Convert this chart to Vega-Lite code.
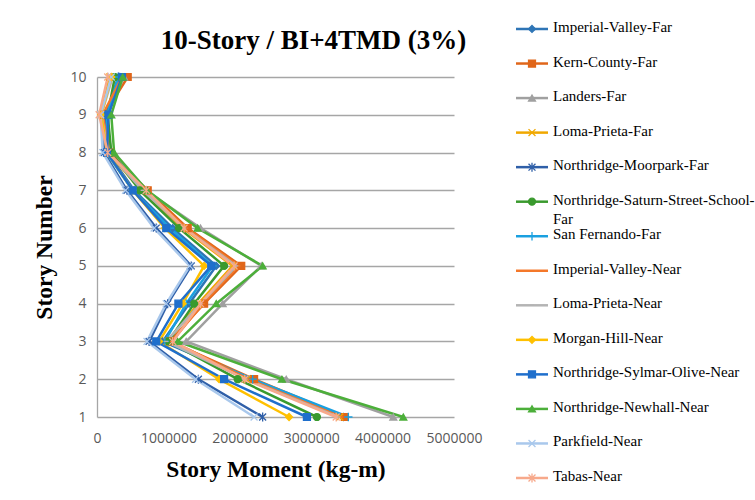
{
  "$schema": "https://vega.github.io/schema/vega-lite/v6.json",
  "background": "white",
  "padding": {"left": 32, "top": 19, "right": 0, "bottom": 0},
  "width": 357,
  "height": 340,
  "config": {"view": {"stroke": null}, "text": {"font": "Liberation Serif"}},
  "title": {"text": "10-Story / BI+4TMD (3%)", "font": "Liberation Serif", "fontSize": 27, "fontWeight": "bold", "color": "#000000", "frame": "group", "anchor": "middle", "dx": 38, "offset": -35},
  "datasets": {
    "moments": [
      {"story": 1, "Imperial-Valley-Far": 3450000, "Kern-County-Far": 3470000, "Landers-Far": 4150000, "Loma-Prieta-Far": 3400000, "Northridge-Moorpark-Far": 2320000, "Northridge-Saturn-Street-School-Far": 3080000, "San Fernando-Far": 3520000, "Imperial-Valley-Near": 3420000, "Loma-Prieta-Near": 3380000, "Morgan-Hill-Near": 2690000, "Northridge-Sylmar-Olive-Near": 2940000, "Northridge-Newhall-Near": 4290000, "Parkfield-Near": 2200000, "Tabas-Near": 3350000},
      {"story": 2, "Imperial-Valley-Far": 2150000, "Kern-County-Far": 2200000, "Landers-Far": 2650000, "Loma-Prieta-Far": 2100000, "Northridge-Moorpark-Far": 1420000, "Northridge-Saturn-Street-School-Far": 1970000, "San Fernando-Far": 2180000, "Imperial-Valley-Near": 2120000, "Loma-Prieta-Near": 2080000, "Morgan-Hill-Near": 1710000, "Northridge-Sylmar-Olive-Near": 1780000, "Northridge-Newhall-Near": 2590000, "Parkfield-Near": 1380000, "Tabas-Near": 2070000},
      {"story": 3, "Imperial-Valley-Far": 920000, "Kern-County-Far": 1020000, "Landers-Far": 1250000, "Loma-Prieta-Far": 980000, "Northridge-Moorpark-Far": 730000, "Northridge-Saturn-Street-School-Far": 1000000, "San Fernando-Far": 950000, "Imperial-Valley-Near": 1050000, "Loma-Prieta-Near": 970000, "Morgan-Hill-Near": 870000, "Northridge-Sylmar-Olive-Near": 830000, "Northridge-Newhall-Near": 1130000, "Parkfield-Near": 700000, "Tabas-Near": 1060000},
      {"story": 4, "Imperial-Valley-Far": 1290000, "Kern-County-Far": 1500000, "Landers-Far": 1760000, "Loma-Prieta-Far": 1420000, "Northridge-Moorpark-Far": 990000, "Northridge-Saturn-Street-School-Far": 1360000, "San Fernando-Far": 1250000, "Imperial-Valley-Near": 1480000, "Loma-Prieta-Near": 1450000, "Morgan-Hill-Near": 1200000, "Northridge-Sylmar-Olive-Near": 1140000, "Northridge-Newhall-Near": 1670000, "Parkfield-Near": 970000, "Tabas-Near": 1450000},
      {"story": 5, "Imperial-Valley-Far": 1670000, "Kern-County-Far": 2020000, "Landers-Far": 2300000, "Loma-Prieta-Far": 1900000, "Northridge-Moorpark-Far": 1320000, "Northridge-Saturn-Street-School-Far": 1780000, "San Fernando-Far": 1620000, "Imperial-Valley-Near": 1980000, "Loma-Prieta-Near": 1950000, "Morgan-Hill-Near": 1500000, "Northridge-Sylmar-Olive-Near": 1600000, "Northridge-Newhall-Near": 2320000, "Parkfield-Near": 1300000, "Tabas-Near": 1920000},
      {"story": 6, "Imperial-Valley-Far": 1060000, "Kern-County-Far": 1270000, "Landers-Far": 1450000, "Loma-Prieta-Far": 1200000, "Northridge-Moorpark-Far": 830000, "Northridge-Saturn-Street-School-Far": 1150000, "San Fernando-Far": 1020000, "Imperial-Valley-Near": 1250000, "Loma-Prieta-Near": 1220000, "Morgan-Hill-Near": 950000, "Northridge-Sylmar-Olive-Near": 970000, "Northridge-Newhall-Near": 1410000, "Parkfield-Near": 800000, "Tabas-Near": 1220000},
      {"story": 7, "Imperial-Valley-Far": 520000, "Kern-County-Far": 710000, "Landers-Far": 680000, "Loma-Prieta-Far": 620000, "Northridge-Moorpark-Far": 420000, "Northridge-Saturn-Street-School-Far": 600000, "San Fernando-Far": 500000, "Imperial-Valley-Near": 660000, "Loma-Prieta-Near": 640000, "Morgan-Hill-Near": 500000, "Northridge-Sylmar-Olive-Near": 500000, "Northridge-Newhall-Near": 700000, "Parkfield-Near": 400000, "Tabas-Near": 690000},
      {"story": 8, "Imperial-Valley-Far": 150000, "Kern-County-Far": 180000, "Landers-Far": 200000, "Loma-Prieta-Far": 160000, "Northridge-Moorpark-Far": 100000, "Northridge-Saturn-Street-School-Far": 200000, "San Fernando-Far": 130000, "Imperial-Valley-Near": 170000, "Loma-Prieta-Near": 160000, "Morgan-Hill-Near": 140000, "Northridge-Sylmar-Olive-Near": 140000, "Northridge-Newhall-Near": 240000, "Parkfield-Near": 80000, "Tabas-Near": 150000},
      {"story": 9, "Imperial-Valley-Far": 150000, "Kern-County-Far": 100000, "Landers-Far": 120000, "Loma-Prieta-Far": 50000, "Northridge-Moorpark-Far": 120000, "Northridge-Saturn-Street-School-Far": 150000, "San Fernando-Far": 140000, "Imperial-Valley-Near": 80000, "Loma-Prieta-Near": 60000, "Morgan-Hill-Near": 60000, "Northridge-Sylmar-Olive-Near": 160000, "Northridge-Newhall-Near": 200000, "Parkfield-Near": 50000, "Tabas-Near": 30000},
      {"story": 10, "Imperial-Valley-Far": 320000, "Kern-County-Far": 430000, "Landers-Far": 380000, "Loma-Prieta-Far": 180000, "Northridge-Moorpark-Far": 300000, "Northridge-Saturn-Street-School-Far": 250000, "San Fernando-Far": 300000, "Imperial-Valley-Near": 350000, "Loma-Prieta-Near": 220000, "Morgan-Hill-Near": 200000, "Northridge-Sylmar-Olive-Near": 350000, "Northridge-Newhall-Near": 360000, "Parkfield-Near": 200000, "Tabas-Near": 150000}
    ],
    "legend": [
      {"series": "Imperial-Valley-Far", "label": "Imperial-Valley-Far"},
      {"series": "Kern-County-Far", "label": "Kern-County-Far"},
      {"series": "Landers-Far", "label": "Landers-Far"},
      {"series": "Loma-Prieta-Far", "label": "Loma-Prieta-Far"},
      {"series": "Northridge-Moorpark-Far", "label": "Northridge-Moorpark-Far"},
      {"series": "Northridge-Saturn-Street-School-Far", "label": "Northridge-Saturn-Street-School-\nFar"},
      {"series": "San Fernando-Far", "label": "San Fernando-Far"},
      {"series": "Imperial-Valley-Near", "label": "Imperial-Valley-Near"},
      {"series": "Loma-Prieta-Near", "label": "Loma-Prieta-Near"},
      {"series": "Morgan-Hill-Near", "label": "Morgan-Hill-Near"},
      {"series": "Northridge-Sylmar-Olive-Near", "label": "Northridge-Sylmar-Olive-Near"},
      {"series": "Northridge-Newhall-Near", "label": "Northridge-Newhall-Near"},
      {"series": "Parkfield-Near", "label": "Parkfield-Near"},
      {"series": "Tabas-Near", "label": "Tabas-Near"}
    ]
  },
  "encoding": {
    "color": {"field": "series", "type": "nominal", "legend": null,
      "scale": {"domain": ["Imperial-Valley-Far", "Kern-County-Far", "Landers-Far", "Loma-Prieta-Far", "Northridge-Moorpark-Far", "Northridge-Saturn-Street-School-Far", "San Fernando-Far", "Imperial-Valley-Near", "Loma-Prieta-Near", "Morgan-Hill-Near", "Northridge-Sylmar-Olive-Near", "Northridge-Newhall-Near", "Parkfield-Near", "Tabas-Near"],
        "range": ["#2E75B6", "#E0661A", "#A0A0A0", "#F0A800", "#2F5FA8", "#3A9A2E", "#1AA0E0", "#F4782A", "#B4B4B4", "#FFC000", "#1F6FCC", "#4CAF3A", "#A9C8EC", "#F7A98B"]}}
  },
  "layer": [
    {
      "data": {"name": "moments"},
      "transform": [
        {"fold": ["Imperial-Valley-Far", "Kern-County-Far", "Landers-Far", "Loma-Prieta-Far", "Northridge-Moorpark-Far", "Northridge-Saturn-Street-School-Far", "San Fernando-Far", "Imperial-Valley-Near", "Loma-Prieta-Near", "Morgan-Hill-Near", "Northridge-Sylmar-Olive-Near", "Northridge-Newhall-Near", "Parkfield-Near", "Tabas-Near"], "as": ["series", "m"]}
      ],
      "encoding": {
        "x": {"field": "m", "type": "quantitative", "scale": {"domain": [0, 5000000], "nice": false, "zero": true},
          "axis": {"values": [0, 1000000, 2000000, 3000000, 4000000, 5000000], "format": "d", "grid": false, "domain": false, "ticks": false, "labelOverlap": false, "labelFlush": false,
            "labelFont": "Open Sans", "labelFontSize": 14, "labelColor": "#595959", "labelPadding": 14,
            "title": "Story Moment (kg-m)", "titleFont": "Liberation Serif", "titleFontSize": 23.5, "titleFontWeight": "bold", "titleColor": "#000000", "titlePadding": 12}},
        "y": {"field": "story", "type": "quantitative", "scale": {"domain": [1, 10], "nice": false, "zero": false},
          "axis": {"values": [1, 2, 3, 4, 5, 6, 7, 8, 9, 10], "grid": true, "gridColor": "#A6A6A6", "gridWidth": 1.3, "domain": true, "domainColor": "#A6A6A6", "domainWidth": 1.3, "ticks": false, "labelOverlap": false, "labelFlush": false,
            "labelFont": "Open Sans", "labelFontSize": 14, "labelColor": "#595959", "labelPadding": 11,
            "title": "Story Number", "titleFont": "Liberation Serif", "titleFontSize": 23.5, "titleFontWeight": "bold", "titleColor": "#000000", "titlePadding": 13}}
      },
      "layer": [
        {"mark": {"type": "line", "strokeWidth": 2.5}, "encoding": {"order": {"field": "story", "type": "quantitative"}}},
        {"mark": {"type": "point", "filled": true, "size": 48, "strokeWidth": 1.3, "opacity": 1},
          "encoding": {
            "stroke": {"field": "series", "type": "nominal", "legend": null,
              "scale": {"domain": ["Imperial-Valley-Far", "Kern-County-Far", "Landers-Far", "Loma-Prieta-Far", "Northridge-Moorpark-Far", "Northridge-Saturn-Street-School-Far", "San Fernando-Far", "Imperial-Valley-Near", "Loma-Prieta-Near", "Morgan-Hill-Near", "Northridge-Sylmar-Olive-Near", "Northridge-Newhall-Near", "Parkfield-Near", "Tabas-Near"],
                "range": ["#2E75B6", "#E0661A", "#A0A0A0", "#F0A800", "#2F5FA8", "#3A9A2E", "#1AA0E0", "#F4782A", "#B4B4B4", "#FFC000", "#1F6FCC", "#4CAF3A", "#A9C8EC", "#F7A98B"]}},
            "shape": {"field": "series", "type": "nominal", "legend": null,
              "scale": {"domain": ["Imperial-Valley-Far", "Kern-County-Far", "Landers-Far", "Loma-Prieta-Far", "Northridge-Moorpark-Far", "Northridge-Saturn-Street-School-Far", "San Fernando-Far", "Imperial-Valley-Near", "Loma-Prieta-Near", "Morgan-Hill-Near", "Northridge-Sylmar-Olive-Near", "Northridge-Newhall-Near", "Parkfield-Near", "Tabas-Near"],
                "range": ["diamond", "square", "triangle-up", "M-1,-1L1,1M-1,1L1,-1", "M-1,-1L1,1M-1,1L1,-1M0,-1.3L0,1.3", "circle", "M-1.2,0L1.2,0M0,-1.2L0,1.2", "M-0.6,0L0.6,0", "M-0.6,0L0.6,0", "diamond", "square", "triangle-up", "M-1,-1L1,1M-1,1L1,-1", "M-1,-1L1,1M-1,1L1,-1M0,-1.3L0,1.3"]}}
          }}
      ]
    },
    {
      "data": {"name": "legend"},
      "transform": [{"window": [{"op": "row_number", "as": "idx"}]}],
      "encoding": {
        "y": {"field": "idx", "type": "quantitative", "axis": null,
          "scale": {"domain": [2.39, 12.234], "reverse": true, "nice": false, "zero": false}}
      },
      "layer": [
        {"mark": {"type": "rule", "strokeWidth": 2.5},
          "encoding": {
            "x": {"datum": 419, "type": "quantitative", "scale": {"domain": [0, 357], "nice": false, "zero": true}, "axis": null},
            "x2": {"datum": 451}
          }},
        {"mark": {"type": "point", "filled": true, "size": 48, "strokeWidth": 1.3, "opacity": 1},
          "encoding": {
            "x": {"datum": 435, "type": "quantitative"},
            "stroke": {"field": "series", "type": "nominal", "legend": null},
            "shape": {"field": "series", "type": "nominal", "legend": null}
          }},
        {"mark": {"type": "text", "align": "left", "baseline": "top", "dy": -9, "lineBreak": "\n", "font": "Liberation Serif", "fontSize": 15, "lineHeight": 19, "color": "#000000"},
          "encoding": {
            "x": {"datum": 456, "type": "quantitative"},
            "text": {"field": "label"},
            "color": {"value": "#000000"}
          }}
      ]
    }
  ],
  "resolve": {"scale": {"x": "independent", "y": "independent"}}
}
